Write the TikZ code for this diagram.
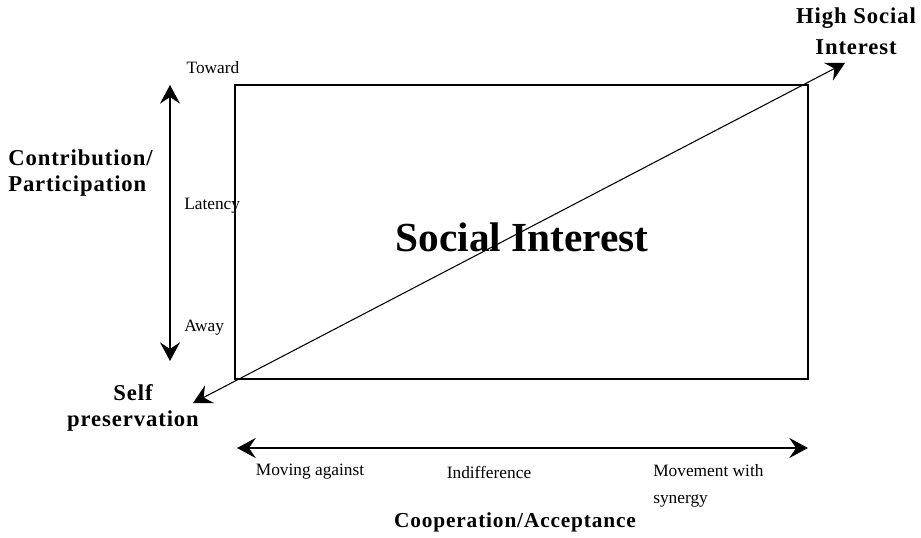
\documentclass[tikz,border=0pt]{standalone}
\usepackage{fontspec}
\setmainfont{Liberation Serif}
\newfontfamily\boldlabel{Liberation Serif}[LetterSpace=4]
\usetikzlibrary{arrows.meta}
\usetikzlibrary{positioning}

\begin{document}
\begin{tikzpicture}[x=0.75pt,y=-0.75pt,
    axis/.style={{Stealth[length=14pt,width=15pt,inset=5pt]}-{Stealth[length=14pt,width=15pt,inset=5pt]}, line width=0.8pt},
    smalltext/.style={font=\fontsize{13}{15}\selectfont, inner sep=0pt},
    heading/.style={font=\boldlabel\fontsize{17}{20}\selectfont\bfseries, align=center, inner sep=0pt}]
  \useasboundingbox (0,0) rectangle (921,538);

  % the field
  \draw [line width=0.8pt] (235,85) rectangle (808,379);
  \node [font=\fontsize{31}{36}\selectfont\bfseries] (title) at (522,237) {Social Interest};

  % end points of the three scales
  \coordinate (toward) at (170,85);
  \coordinate (away) at (170,361);
  \coordinate (self) at (193,403);
  \coordinate (high) at (845,63);
  \coordinate (against) at (237,448);
  \coordinate (with) at (808,448);

  \draw [axis] (away) -- (toward);
  \draw [axis] (self) -- (high);
  \draw [axis] (against) -- (with);

  % vertical scale
  \node [smalltext] (towardl) at (213,68) {Toward};
  \node [smalltext, anchor=west] (latency) at (184,206) {Latency};
  \node [smalltext, anchor=west] (awayl) at (184,328) {Away};
  \node [heading, anchor=west, align=left] (contrib) at (8,173) {Contribution/\\Participation};

  % diagonal
  \node [heading] (selfl) at (133,408) {Self\\preservation};
  \node [heading, font=\boldlabel\fontsize{17}{23}\selectfont\bfseries] (highl) at (856,31) {High Social\\Interest};

  % horizontal scale
  \node [smalltext] (movagainst) at (310,472) {Moving against};
  \node [smalltext] (indiff) at (489,472) {Indifference};
  \node [smalltext, anchor=west, align=left, font=\fontsize{13}{20}\selectfont] (movwith) at (653,486) {Movement with\\synergy};
  \node [heading, font=\boldlabel\fontsize{16}{20}\selectfont\bfseries] (coop) at (515,522) {Cooperation/Acceptance};

\end{tikzpicture}
\end{document}
